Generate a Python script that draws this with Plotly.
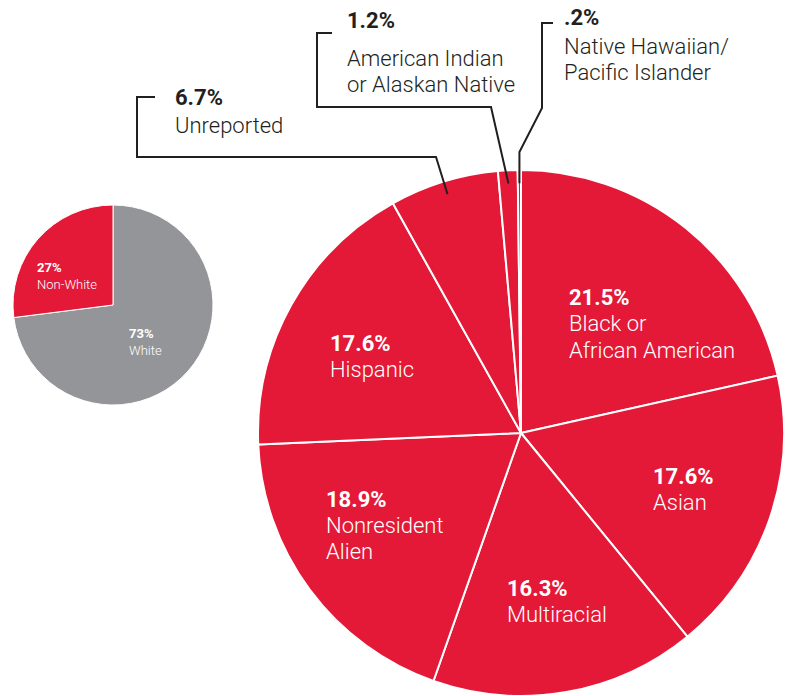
import math
import plotly.graph_objects as go

W, H = 792, 696

# ---- data ----
overview_labels = ["White", "Non-White"]
overview_values = [73, 27]

detail_labels = ["Black or<br>African American", "Asian", "Multiracial",
                 "Nonresident<br>Alien", "Hispanic", "Unreported",
                 "American Indian<br>or Alaskan Native",
                 "Native Hawaiian/<br>Pacific Islander"]
detail_values = [21.5, 17.6, 16.3, 18.9, 17.6, 6.7, 1.2, 0.2]

RED = "#E31937"
GRAY = "#939598"
INK = "#231F20"
FONT = "Roboto"


def fmt(v):
    s = f"{v:g}%"
    return s[1:] if s.startswith("0.") else s


def px(x, y):
    return x / W, 1 - y / H


# ---- geometry (pixels) ----
BIG_C = (521, 433)
BIG_R = 263
SMALL_C = (113, 305)
SMALL_R = 100


def domain(c, r):
    x0, y1 = px(c[0] - r, c[1] - r)
    x1, y0 = px(c[0] + r, c[1] + r)
    return dict(x=[max(0, x0), min(1, x1)], y=[max(0, y0), min(1, y1)])


fig = go.Figure()
fig.add_trace(go.Pie(
    labels=overview_labels, values=overview_values, sort=False,
    direction="clockwise", rotation=0,
    marker=dict(colors=[GRAY, RED], line=dict(color="white", width=1)),
    textinfo="none", domain=domain(SMALL_C, SMALL_R), showlegend=False,
))
fig.add_trace(go.Pie(
    labels=detail_labels, values=detail_values, sort=False,
    direction="clockwise", rotation=0,
    marker=dict(colors=[RED] * len(detail_values), line=dict(color="white", width=2)),
    textinfo="none", domain=domain(BIG_C, BIG_R), showlegend=False,
))

annotations = []


def add_text(x, y, text, size, color, bold=False):
    xp, yp = px(x, y)
    annotations.append(dict(
        x=xp, y=yp, xref="paper", yref="paper", text=text, showarrow=False,
        xanchor="left", yanchor="middle", align="left", xshift=-2,
        font=dict(family=FONT, size=size, color=color,
                  weight="bold" if bold else 300),
    ))


def add_label(x, ys, pct, label, size, color):
    add_text(x, ys[0], pct, size, color, bold=True)
    for yy, line in zip(ys[1:], label.split("<br>")):
        add_text(x, yy, line, size, color)


# small pie labels
add_label(37, [268, 284], fmt(overview_values[1]), overview_labels[1], 13, "white")
add_label(129, [333, 350], fmt(overview_values[0]), overview_labels[0], 13, "white")

# big pie inside labels (position per slice)
inside_pos = {
    0: (569, [298, 324, 350]),
    1: (653, [477, 502]),
    2: (507, [588, 614]),
    3: (326, [499, 525, 551]),
    4: (330, [343, 369]),
}
SZ = 22
for i, (x, ys) in inside_pos.items():
    add_label(x, ys, fmt(detail_values[i]), detail_labels[i], SZ, "white")

# outside labels
outside_pos = {
    5: (175, [98, 125]),
    6: (347, [20, 58, 84]),
    7: (564, [18, 46, 73]),
}
for i, (x, ys) in outside_pos.items():
    add_label(x, ys, fmt(detail_values[i]), detail_labels[i], SZ, INK)

# callout leader lines: end point computed at slice mid-angle
total = sum(detail_values)
cum = 0
mids = []
for v in detail_values:
    mids.append((cum + v / 2) / total * 360)
    cum += v


def slice_point(i, frac):
    a = math.radians(mids[i])
    return BIG_C[0] + BIG_R * frac * math.sin(a), BIG_C[1] - BIG_R * frac * math.cos(a)


elbows = {
    5: [(155, 97), (137, 97), (137, 157), (436, 157)],
    6: [(332, 33), (317, 33), (317, 107), (491, 107)],
    7: [(553, 23), (542, 23), (542, 108), None],
}
shapes = []
for i, pts in elbows.items():
    ex, ey = slice_point(i, 0.95)
    pts = list(pts)
    if pts[-1] is None:
        pts[-1] = (ex, 152)
    pts.append((ex, ey))
    path = ""
    for k, (x, y) in enumerate(pts):
        xp, yp = px(x, y)
        path += ("M" if k == 0 else "L") + f"{xp:.5f},{yp:.5f} "
    shapes.append(dict(type="path", path=path.strip(), xref="paper", yref="paper",
                       line=dict(color=INK, width=2)))

fig.update_layout(
    width=W, height=H, margin=dict(l=0, r=0, t=0, b=0),
    paper_bgcolor="white", plot_bgcolor="white",
    annotations=annotations, shapes=shapes,
)
fig.write_html("out.html", config={"displayModeBar": False},
               post_script="document.body.style.margin='0';")
